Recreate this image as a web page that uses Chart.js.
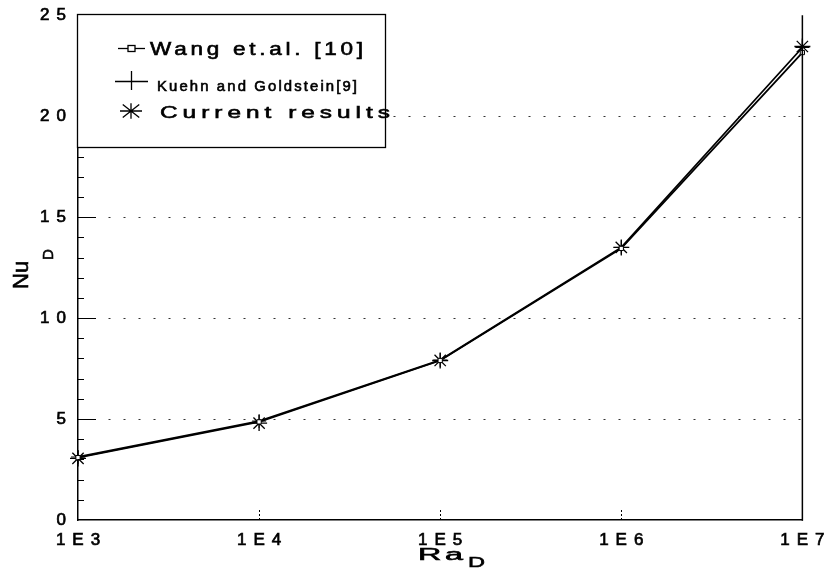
<!DOCTYPE html>
<html><head><meta charset="utf-8">
<style>html,body{margin:0;padding:0;background:#fff}#wrap{width:838px;height:569px}</style>
<script src="https://cdn.jsdelivr.net/npm/chart.js@4"></script>
</head><body><div id="wrap"><canvas id="c" width="838" height="569"></canvas></div>
<script>
// ---- data ----
const raValues = [1e3, 1e4, 1e5, 1e6, 1e7];
const xTickLabels = ['1E3', '1E4', '1E5', '1E6', '1E7'];
const yTickValues = [0, 5, 10, 15, 20, 25];
const wangNu = [3.09, 4.86, 7.9, 13.45, 23.15];
const kuehnNu = [3.12, 4.9, 7.92, 13.5, 23.4];
const currentNu = [3.05, 4.8, 7.9, 13.5, 23.45];
const seriesNames = ['Wang et.al. [10]', 'Kuehn and Goldstein[9]', 'Current results'];
const xTitle = ['Ra', 'D'];
const yTitle = ['Nu', 'D'];

const pts = arr => raValues.map((x, i) => ({x: x, y: arr[i]}));
const TICK_LS = '7px';

function stretchText(ctx, text, x, y, font, targetW, ls) {
  ctx.save();
  ctx.font = font; ctx.letterSpacing = '0px';
  const w = ctx.measureText(text).width;
  const sx = targetW / (w + (text.length - 1) * ls);
  ctx.translate(x, y); ctx.scale(sx, 1);
  ctx.letterSpacing = ls + 'px';
  ctx.textAlign = 'left'; ctx.textBaseline = 'alphabetic'; ctx.fillStyle = '#000';
  ctx.strokeStyle = '#000'; ctx.lineWidth = 0.6;
  ctx.fillText(text, 0, 0);
  ctx.strokeText(text, 0, 0);
  ctx.restore();
}

const spacingPlugin = {
  id: 'spacing',
  beforeLayout(c) { c.ctx.letterSpacing = TICK_LS; },
  beforeDraw(c) { c.ctx.letterSpacing = TICK_LS; }
};

const decorPlugin = {
  id: 'decor',
  afterDraw(c) {
    const ctx = c.ctx, a = c.chartArea, xs = c.scales.x, ys = c.scales.y;
    ctx.save();
    ctx.letterSpacing = '0px';
    ctx.strokeStyle = '#000';
    // right frame
    ctx.lineWidth = 1.5;
    ctx.beginPath(); ctx.moveTo(a.right, a.top); ctx.lineTo(a.right, a.bottom + 0.75); ctx.stroke();
    // y minor / major inner ticks
    ctx.lineWidth = 1;
    for (let v = 1; v < 25; v++) {
      const py = Math.round(ys.getPixelForValue(v)) + 0.5;
      const len = (v % 5 === 0) ? 18 : 6;
      ctx.beginPath(); ctx.moveTo(a.left, py); ctx.lineTo(a.left + len, py); ctx.stroke();
    }
    // x inner ticks
    ctx.setLineDash([2, 2]);
    for (let i = 1; i < raValues.length - 1; i++) {
      const px = Math.round(xs.getPixelForValue(raValues[i])) + 0.5;
      ctx.beginPath(); ctx.moveTo(px, a.bottom); ctx.lineTo(px, a.bottom - 11); ctx.stroke();
    }
    ctx.setLineDash([]);

    // legend box
    const L = a.left - 1, T = 14, R = 385, B = 147;
    ctx.fillStyle = '#fff';
    ctx.fillRect(L, T, R - L, B - T);
    ctx.lineWidth = 1.3;
    ctx.strokeRect(L + 0.5, T + 0.5, R - L, B - T);
    // Wang symbol
    ctx.lineWidth = 1.3;
    ctx.beginPath(); ctx.moveTo(118, 48.5); ctx.lineTo(145, 48.5); ctx.stroke();
    ctx.fillStyle = '#fff';
    ctx.fillRect(128, 45.5, 7, 6); ctx.strokeRect(128, 45.5, 7, 6);
    // Kuehn symbol
    ctx.beginPath(); ctx.moveTo(115, 81.5); ctx.lineTo(148, 81.5);
    ctx.moveTo(131.5, 71); ctx.lineTo(131.5, 90); ctx.stroke();
    // Current symbol (asterisk)
    const cx = 131, cy = 111, r = 11;
    ctx.beginPath();
    ctx.moveTo(cx - r, cy); ctx.lineTo(cx + r, cy);
    ctx.moveTo(cx - r * 0.75, cy - r * 0.6); ctx.lineTo(cx + r * 0.75, cy + r * 0.6);
    ctx.moveTo(cx - r * 0.75, cy + r * 0.6); ctx.lineTo(cx + r * 0.75, cy - r * 0.6);
    ctx.moveTo(cx, cy - r * 0.7); ctx.lineTo(cx, cy + r * 0.7);
    ctx.stroke();
    // legend texts
    stretchText(ctx, seriesNames[0], 150, 55, '18px "Liberation Sans"', 213, 3);
    stretchText(ctx, seriesNames[1], 157, 91, '14px "Liberation Sans"', 200, 2);
    stretchText(ctx, seriesNames[2], 160, 118, '17px "Liberation Sans"', 230, 3.5);

    // x title
    stretchText(ctx, xTitle[0], 418, 560, '17px "Liberation Sans"', 45, 2);
    stretchText(ctx, xTitle[1], 468, 567, '15px "Liberation Sans"', 17, 0);
    // y title (rotated)
    ctx.save();
    ctx.translate(28, 289); ctx.rotate(-Math.PI / 2);
    ctx.fillStyle = '#000'; ctx.strokeStyle = '#000'; ctx.lineWidth = 0.6;
    ctx.font = '22px "Liberation Sans"';
    ctx.textAlign = 'left'; ctx.textBaseline = 'alphabetic';
    ctx.fillText(yTitle[0], 0, 0); ctx.strokeText(yTitle[0], 0, 0);
    ctx.font = '15px "Liberation Sans"';
    ctx.fillText(yTitle[1], 29, 25); ctx.strokeText(yTitle[1], 29, 25);
    ctx.restore();

    ctx.restore();
  }
};

const tickFont = {family: '"Liberation Sans", Arial, sans-serif', size: 17};

new Chart(document.getElementById('c'), {
  type: 'line',
  data: {
    datasets: [
      {label: seriesNames[0], data: pts(wangNu), borderColor: '#000', borderWidth: 1.8,
       pointStyle: 'rect', pointRadius: 3, pointBackgroundColor: '#fff', pointBorderColor: '#000',
       pointBorderWidth: 1, tension: 0, clip: false},
      {label: seriesNames[1], data: pts(kuehnNu), borderColor: '#000', borderWidth: 1.8,
       pointStyle: 'cross', pointRadius: 7, pointBorderColor: '#000', pointBorderWidth: 1,
       tension: 0, clip: false},
      {label: seriesNames[2], data: pts(currentNu), showLine: false, borderColor: '#000',
       pointStyle: 'star', pointRadius: 8, pointBorderColor: '#000', pointBorderWidth: 1.3,
       clip: false}
    ]
  },
  options: {
    responsive: false, animation: false, devicePixelRatio: 1,
    layout: {padding: {top: 15, right: 29, left: 0, bottom: 0}},
    plugins: {legend: {display: false}, tooltip: {enabled: false}},
    scales: {
      x: {
        type: 'logarithmic', min: 1e3, max: 1e7,
        afterBuildTicks(s) { s.ticks = raValues.map(v => ({value: v})); },
        afterFit(s) { s.height = 49; },
        grid: {display: false, drawTicks: false},
        border: {display: true, color: '#000', width: 1.5},
        ticks: {callback: (v, i) => xTickLabels[i], font: tickFont, color: '#000',
                textStrokeColor: '#000', textStrokeWidth: 0.7,
                padding: 10, maxRotation: 0, autoSkip: false, labelOffset: 3.5}
      },
      y: {
        min: 0, max: 25,
        afterBuildTicks(s) { s.ticks = yTickValues.map(v => ({value: v})); },
        afterFit(s) { s.width = 78; },
        grid: {color: ctx => (ctx.tick && ctx.tick.value > 0 && ctx.tick.value < 25) ? '#333' : 'rgba(0,0,0,0)',
               lineWidth: 1, drawTicks: false},
        border: {display: true, color: '#000', width: 1.5, dash: [2, 13]},
        ticks: {callback: v => String(v), font: tickFont, color: '#000',
                textStrokeColor: '#000', textStrokeWidth: 0.7, padding: 5}
      }
    }
  },
  plugins: [spacingPlugin, decorPlugin]
});
</script></body></html>
